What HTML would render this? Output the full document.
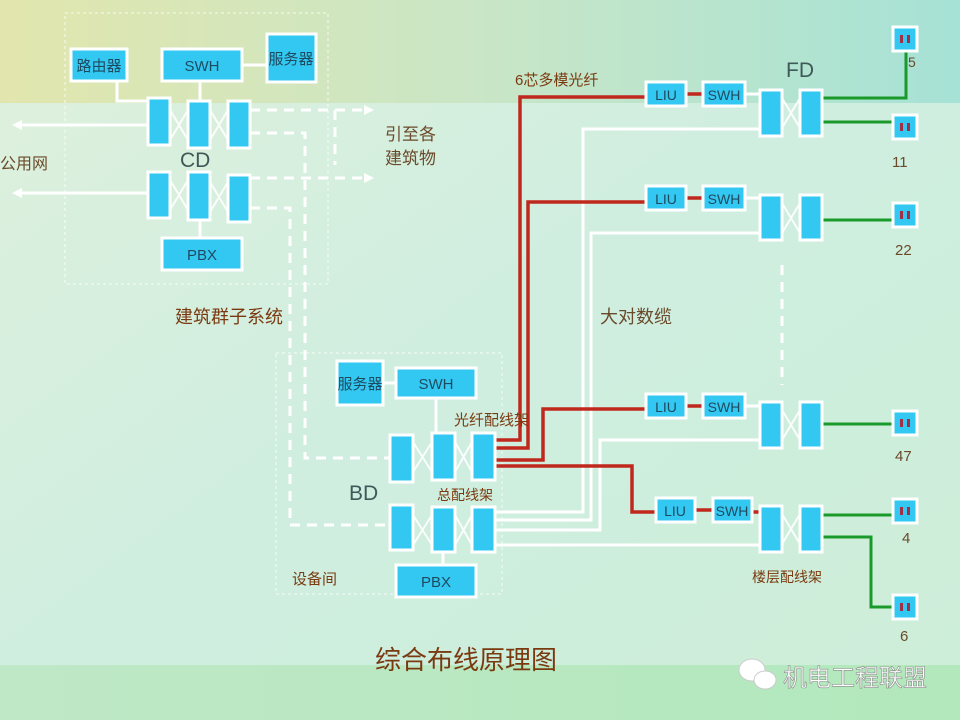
<!DOCTYPE html>
<html><head><meta charset="utf-8"><style>
body{margin:0;width:960px;height:720px;overflow:hidden;font-family:"Liberation Sans","Noto Sans CJK SC",sans-serif}
</style></head><body>
<svg width="960" height="720" xmlns="http://www.w3.org/2000/svg" font-family="Liberation Sans, Noto Sans CJK SC, sans-serif">
<defs>
<linearGradient id="gt" x1="0" x2="1"><stop offset="0" stop-color="#e2e6ae"/><stop offset="0.5" stop-color="#c9e6c6"/><stop offset="1" stop-color="#a6e2d6"/></linearGradient>
<linearGradient id="gm" x1="0" x2="1" y1="0" y2="1"><stop offset="0" stop-color="#dff0dc"/><stop offset="0.5" stop-color="#cfeee0"/><stop offset="1" stop-color="#cdeed8"/></linearGradient>
<linearGradient id="gb" x1="0" x2="1"><stop offset="0" stop-color="#bfe8c6"/><stop offset="1" stop-color="#b2e8bc"/></linearGradient>
</defs>
<rect width="960" height="720" fill="url(#gm)"/>
<rect width="960" height="103" fill="url(#gt)"/>
<rect y="665" width="960" height="55" fill="url(#gb)"/>

<g fill="none" stroke="#fff" stroke-width="1" stroke-dasharray="3,3" opacity="0.8">
<rect x="65" y="13" width="263" height="271"/>
<rect x="276" y="353" width="226" height="241"/>
</g>

<g stroke="#fff" stroke-width="3" fill="none">
<path d="M117 81V101H148"/><path d="M200 81V101"/><path d="M242 65H267"/>
<path d="M200 220V238"/>
<path d="M148 125H18"/><path d="M148 193H18"/>
<path d="M383 383H396"/><path d="M436 398V433"/><path d="M443 552V565"/>
<path d="M495 512H583V129H760"/>
<path d="M495 520H591V233H760"/>
<path d="M495 530H600V440H760"/>
<path d="M495 545H760"/>
<path d="M745 94H760"/><path d="M745 198H760"/><path d="M745 406H760"/>
</g>
<g fill="#fff"><path d="M12 125l10-5v10z"/><path d="M12 193l10-5v10z"/><path d="M374 110l-10-5v10z"/><path d="M374 178l-10-5v10z"/></g>
<g stroke="#fff" stroke-width="3" fill="none" stroke-dasharray="10,7">
<path d="M250 110H366"/><path d="M250 178H366"/>
<path d="M250 133H305V458H390"/>
<path d="M250 208H290V525H390"/>
<path d="M335 110V165"/>
<path d="M782 265V385"/>
</g>
<g stroke="#fff" stroke-width="2" opacity="0.9">
<path d="M170 110L188 140M170 140L188 110M210 110L228 140M210 140L228 110"/>
<path d="M170 180L188 210M170 210L188 180M210 182L228 212M210 212L228 182"/>
<path d="M413 442L432 472M413 472L432 442M455 442L472 472M455 472L472 442"/>
<path d="M413 515L432 545M413 545L432 515M455 515L472 545M455 545L472 515"/>
<path d="M782 98L800 128M782 128L800 98M782 203L800 233M782 233L800 203M782 410L800 440M782 440L800 410M782 514L800 544M782 544L800 514"/>
</g>
<g stroke="#c0281e" stroke-width="3.5" fill="none">
<path d="M495 440H520V97H646"/><path d="M495 448H528V202H646"/>
<path d="M495 460H543V409H646"/><path d="M495 466H632V512H656"/>
<path d="M686 94H703"/><path d="M686 198H703"/><path d="M686 406H703"/><path d="M695 510H713"/><path d="M752 512H760"/>
</g>
<g stroke="#1a9a2a" stroke-width="3" fill="none">
<path d="M822 98H906V52"/><path d="M822 122H892"/><path d="M822 220H892"/>
<path d="M822 424H892"/><path d="M822 515H892"/><path d="M822 537H871V607H893"/>
</g>

<g fill="#33c8f2" stroke="#fff" stroke-width="3">
<rect x="71" y="49" width="56" height="32"/><rect x="162" y="49" width="80" height="32"/><rect x="267" y="34" width="49" height="48"/>
<rect x="162" y="238" width="80" height="32"/>
<rect x="148" y="98" width="22" height="47"/><rect x="188" y="101" width="22" height="47"/><rect x="228" y="101" width="22" height="47"/>
<rect x="148" y="172" width="22" height="46"/><rect x="188" y="172" width="22" height="48"/><rect x="228" y="175" width="22" height="47"/>
<rect x="337" y="361" width="46" height="44"/><rect x="396" y="368" width="80" height="30"/><rect x="396" y="565" width="80" height="32"/>
<rect x="390" y="435" width="23" height="47"/><rect x="432" y="433" width="23" height="47"/><rect x="472" y="433" width="23" height="47"/>
<rect x="390" y="505" width="23" height="45"/><rect x="432" y="507" width="23" height="45"/><rect x="472" y="507" width="23" height="45"/>
<rect x="646" y="82" width="40" height="24"/><rect x="703" y="82" width="42" height="24"/>
<rect x="646" y="186" width="40" height="24"/><rect x="703" y="186" width="42" height="24"/>
<rect x="646" y="394" width="40" height="24"/><rect x="703" y="394" width="42" height="24"/>
<rect x="656" y="498" width="39" height="24"/><rect x="713" y="498" width="39" height="24"/>
<rect x="760" y="90" width="22" height="46"/><rect x="800" y="90" width="22" height="46"/>
<rect x="760" y="195" width="22" height="45"/><rect x="800" y="195" width="22" height="45"/>
<rect x="760" y="402" width="22" height="46"/><rect x="800" y="402" width="22" height="46"/>
<rect x="760" y="506" width="22" height="46"/><rect x="800" y="506" width="22" height="46"/>
<rect x="893" y="27" width="24" height="24"/><rect x="893" y="115" width="24" height="24"/><rect x="893" y="203" width="24" height="24"/>
<rect x="893" y="411" width="24" height="24"/><rect x="893" y="499" width="24" height="24"/><rect x="893" y="595" width="24" height="24"/>
</g>
<g fill="#a0304a">
<rect x="900" y="35" width="3" height="8"/><rect x="907" y="35" width="3" height="8"/>
<rect x="900" y="123" width="3" height="8"/><rect x="907" y="123" width="3" height="8"/>
<rect x="900" y="211" width="3" height="8"/><rect x="907" y="211" width="3" height="8"/>
<rect x="900" y="419" width="3" height="8"/><rect x="907" y="419" width="3" height="8"/>
<rect x="900" y="507" width="3" height="8"/><rect x="907" y="507" width="3" height="8"/>
<rect x="900" y="603" width="3" height="8"/><rect x="907" y="603" width="3" height="8"/>
</g>

<g fill="#1e4a60" font-size="15" text-anchor="middle">
<text x="99" y="71">路由器</text><text x="202" y="71">SWH</text><text x="291" y="64">服务器</text>
<text x="202" y="260">PBX</text>
<text x="360" y="389">服务器</text><text x="436" y="389">SWH</text><text x="436" y="587">PBX</text>
<text x="666" y="100" font-size="14">LIU</text><text x="724" y="100" font-size="14">SWH</text>
<text x="666" y="204" font-size="14">LIU</text><text x="724" y="204" font-size="14">SWH</text>
<text x="666" y="412" font-size="14">LIU</text><text x="724" y="412" font-size="14">SWH</text>
<text x="675" y="516" font-size="14">LIU</text><text x="732" y="516" font-size="14">SWH</text>
</g>
<g fill="#3f5858" font-size="21"><text x="180" y="167">CD</text><text x="349" y="500">BD</text><text x="786" y="77">FD</text></g>
<g fill="#6a4a2a" font-size="16">
<text x="0" y="169">公用网</text><text x="385" y="140" font-size="17">引至各</text><text x="385" y="164" font-size="17">建筑物</text>
<text x="600" y="323" font-size="18">大对数缆</text>
<text x="908" y="67" font-size="14">5</text><text x="892" y="167" font-size="15">11</text><text x="895" y="255" font-size="15">22</text>
<text x="895" y="461" font-size="15">47</text><text x="902" y="543" font-size="15">4</text><text x="900" y="641" font-size="15">6</text>
</g>
<g fill="#7a3a10" font-size="15">
<text x="175" y="323" font-size="18">建筑群子系统</text><text x="454" y="425">光纤配线架</text><text x="437" y="500" font-size="14">总配线架</text>
<text x="292" y="584">设备间</text><text x="515" y="85">6芯多模光纤</text><text x="752" y="582" font-size="14">楼层配线架</text>
<text x="375" y="669" font-size="26">综合布线原理图</text>
</g>
<g fill="#fff" stroke="#ccc" stroke-width="1"><ellipse cx="752" cy="670" rx="13" ry="11"/><ellipse cx="765" cy="680" rx="11" ry="9"/></g>
<text x="783" y="686" font-size="24" fill="#fff" stroke="#888" stroke-width="0.6">机电工程联盟</text>
</svg>
</body></html>
